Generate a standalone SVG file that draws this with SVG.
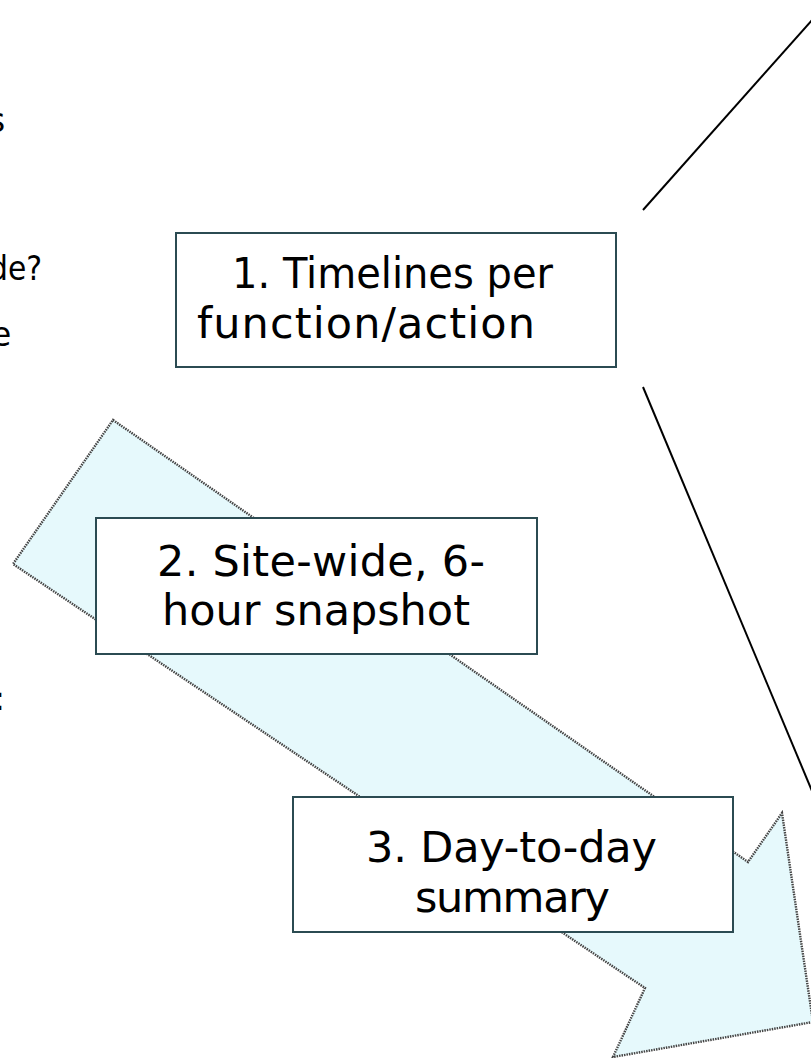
<svg xmlns="http://www.w3.org/2000/svg" width="811" height="1058" viewBox="0 0 811 1058">
  <style>
    .box { fill: #ffffff; stroke: #2b4b52; stroke-width: 2; }
    .label { font-family: "DejaVu Sans", "Liberation Sans", sans-serif; font-size: 43px; fill: #000000; }
    .side { font-family: "DejaVu Sans", "Liberation Sans", sans-serif; font-size: 33px; fill: #000000; }
    .link { stroke: #000000; stroke-width: 2; fill: none; }
    .flow { fill: #e6f9fc; stroke: #444444; stroke-width: 2.4; stroke-dasharray: 1.5 1; }
  </style>
  <rect width="811" height="1058" fill="#ffffff"/>

  <!-- word endings running off the left margin -->
  <g id="side-notes">
    <text class="side" x="-12" y="132">s</text>
    <text class="side" x="-11" y="280" textLength="53" lengthAdjust="spacingAndGlyphs">de?</text>
    <text class="side" x="-9" y="346">e</text>
    <text class="side" x="-6" y="710">:</text>
  </g>

  <!-- broad block arrow running from the upper left to the lower right -->
  <g id="flow-arrow">
    <polygon class="flow" points="113,420 748,862 782,813 813,1022 613,1057 645,988 13,564"/>
  </g>

  <!-- the two diverging lines beside box 1 -->
  <g id="connectors">
    <line class="link" x1="643" y1="210" x2="830" y2="0"/>
    <line class="link" x1="643" y1="387" x2="812" y2="791"/>
  </g>

  <g id="box-timelines">
    <rect class="box" x="176" y="233" width="440" height="134"/>
    <text class="label" x="232" y="288" textLength="321" lengthAdjust="spacingAndGlyphs">1. Timelines per</text>
    <text class="label" x="197" y="338" textLength="338">function/action</text>
  </g>

  <g id="box-snapshot">
    <rect class="box" x="96" y="518" width="441" height="136"/>
    <text class="label" x="157" y="576" textLength="328">2. Site-wide, 6-</text>
    <text class="label" x="162" y="625" textLength="308">hour snapshot</text>
  </g>

  <g id="box-summary">
    <rect class="box" x="293" y="797" width="440" height="135"/>
    <text class="label" x="366" y="862" textLength="291">3. Day-to-day</text>
    <text class="label" x="415" y="912" textLength="195">summary</text>
  </g>
</svg>
